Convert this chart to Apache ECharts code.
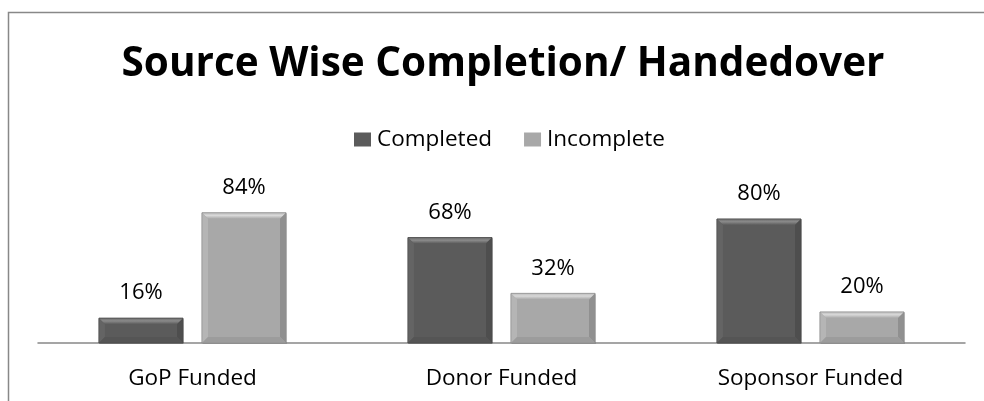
<!DOCTYPE html>
<html><head><meta charset="utf-8">
<script src="https://cdn.jsdelivr.net/npm/echarts@6/dist/echarts.min.js"></script>
<style>html,body{margin:0;padding:0;background:#fff}#c{width:984px;height:401px}</style>
</head><body><div id="c"></div>
<script>
const categories = ['GoP Funded', 'Donor Funded', 'Soponsor Funded'];
const completed = [16, 68, 80];
const incomplete = [84, 32, 20];
const seriesNames = ['Completed', 'Incomplete'];

const FONT = 'Open Sans';
const palettes = [
  {face: '#5b5b5b', top: '#8a8a8a', topEdge: '#6e6e6e', left: '#646464', right: '#4e4e4e', bottom: '#555555', stroke: '#4a4a4a'},
  {face: '#a8a8a8', top: '#d8d8d8', topEdge: '#bdbdbd', left: '#b5b5b5', right: '#909090', bottom: '#9c9c9c', stroke: '#8e8e8e'}
];

function makeRender(idx) {
  const p = palettes[idx];
  const sign = idx === 0 ? -1 : 1;
  return function (params, api) {
    const ci = api.value(0);
    const v = api.value(1);
    const base = api.coord([ci, 0]);
    const topPt = api.coord([ci, v]);
    const band = api.size([1, 0])[0];
    const w = band * 0.272;
    const cx = base[0] + sign * band * 0.1667;
    const x0 = cx - w / 2, x1 = cx + w / 2;
    const y0 = topPt[1], y1 = base[1];
    const h = y1 - y0;
    const b = Math.min(6, h / 2, w / 2);
    const ix0 = x0 + b, ix1 = x1 - b, iy0 = y0 + b, iy1 = y1 - b;
    const lbl = Math.round(v) + '%';
    return {
      type: 'group',
      children: [
        {type: 'rect', shape: {x: x0 + 1, y: y0 + 1, width: w, height: h}, style: {fill: 'rgba(0,0,0,0.12)'}},
        {type: 'rect', shape: {x: x0, y: y0, width: w, height: h}, style: {fill: p.face, stroke: p.stroke, lineWidth: 0.6}},
        {type: 'polygon', shape: {points: [[x0, y0], [x1, y0], [ix1, iy0], [ix0, iy0]]},
          style: {fill: {type: 'linear', x: 0, y: 0, x2: 0, y2: 1, colorStops: [{offset: 0, color: p.topEdge}, {offset: 0.45, color: p.top}, {offset: 1, color: p.face}]}}},
        {type: 'polygon', shape: {points: [[x0, y0], [ix0, iy0], [ix0, iy1], [x0, y1]]}, style: {fill: p.left}},
        {type: 'polygon', shape: {points: [[x1, y0], [ix1, iy0], [ix1, iy1], [x1, y1]]}, style: {fill: p.right}},
        {type: 'polygon', shape: {points: [[x0, y1], [ix0, iy1], [ix1, iy1], [x1, y1]]}, style: {fill: p.bottom}},
        {type: 'rect', shape: {x: x0, y: y0, width: w, height: h}, style: {fill: 'none', stroke: p.stroke, lineWidth: 0.6}},
        {type: 'text', style: {text: lbl, x: cx, y: y0 - 25, align: 'center', verticalAlign: 'middle', font: '22px "' + FONT + '"', fill: '#000'}}
      ]
    };
  };
}

const chart = echarts.init(document.getElementById('c'), null, {renderer: 'canvas'});
chart.setOption({
  animation: false,
  backgroundColor: '#fff',
  title: {text: 'Source Wise Completion/ Handedover', left: 498, textAlign: 'center', top: 39,
    textStyle: {fontFamily: FONT, fontWeight: 'bold', fontSize: 40.5, color: '#000'}},
  legend: {top: 123, left: 349, itemWidth: 17, itemHeight: 14, itemGap: 32, icon: 'rect',
    textStyle: {fontFamily: FONT, fontSize: 22.5, color: '#000', padding: [0, 0, 0, 1]},
    data: [{name: seriesNames[0], itemStyle: {color: '#5b5b5b'}}, {name: seriesNames[1], itemStyle: {color: '#a8a8a8'}}]},
  grid: {left: 38, right: 19, top: 188, bottom: 58},
  xAxis: {type: 'category', data: categories,
    axisLine: {lineStyle: {color: '#888', width: 1.5}}, axisTick: {show: false},
    axisLabel: {fontFamily: FONT, fontSize: 22.5, color: '#000', margin: 24}},
  yAxis: {type: 'value', min: 0, max: 100, show: false, splitLine: {show: false}},
  graphic: [{type: 'rect', shape: {x: 8.5, y: 12.5, width: 1200, height: 600}, style: {fill: 'none', stroke: '#888', lineWidth: 1.5}, z: 100, silent: true}],
  series: [
    {name: seriesNames[0], type: 'custom', itemStyle: {color: '#5b5b5b'}, renderItem: makeRender(0), encode: {x: 0, y: 1},
      data: completed.map((v, i) => [i, v])},
    {name: seriesNames[1], type: 'custom', itemStyle: {color: '#a8a8a8'}, renderItem: makeRender(1), encode: {x: 0, y: 1},
      data: incomplete.map((v, i) => [i, v])}
  ]
});
</script></body></html>
